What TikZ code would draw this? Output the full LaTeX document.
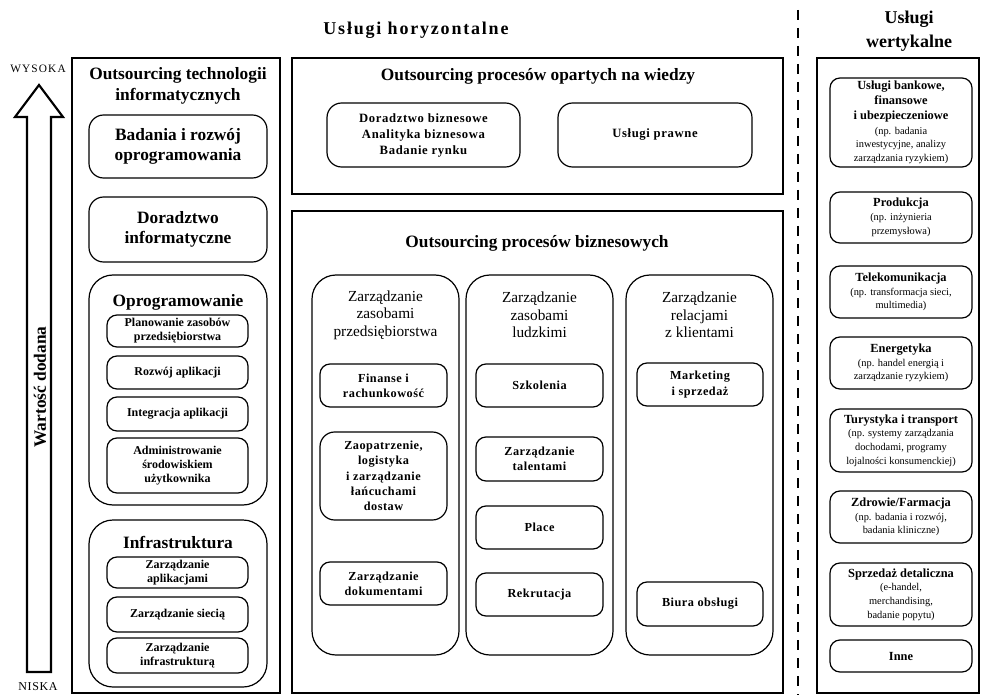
\documentclass[tikz,border=0pt]{standalone}
\usepackage{fontspec}
\setmainfont{Liberation Serif}
\newcommand\bx[7]{%
 \pgfmathsetmacro\bxcx{(#3+#5)/2}%
 \pgfmathsetmacro\bxcy{(#4+#6)/2}%
 \pgfmathsetmacro\bxw{(#5-#3)*0.75}%
 \pgfmathsetmacro\bxh{(#6-#4)*0.75}%
 \node[#1, minimum width=\bxw pt, minimum height=\bxh pt, inner sep=0pt] (#2) at (\bxcx,\bxcy) {#7};}
\newcommand\vb[1]{{\fontsize{9.3}{11}\selectfont\bfseries #1}}
\begin{document}
\begin{tikzpicture}[x=0.75pt,y=-0.75pt]
\tikzset{
 outer/.style={draw, line width=2pt, rectangle},
 rb/.style={draw, line width=0.9pt, rounded corners=7.5pt, align=center},
 rmid/.style={draw, line width=0.9pt, rounded corners=11pt, align=center},
 rbig/.style={draw, line width=0.9pt, rounded corners=18pt},
 ttl/.style={font=\bfseries\fontsize{13}{15.5}\selectfont, align=center, inner sep=0pt},
 sm/.style={font=\bfseries\fontsize{9}{10.5}\selectfont},
 smb/.style={font=\bfseries\fontsize{9.2}{11.5}\selectfont\addfontfeature{LetterSpace=4}},
 kn/.style={font=\bfseries\fontsize{9.5}{12}\selectfont\addfontfeature{LetterSpace=5}},
 coltl/.style={font=\fontsize{11.5}{13}\selectfont, align=center, inner sep=0pt},
 vert/.style={font=\fontsize{7.8}{10.3}\selectfont},
 dashline/.style={line width=2.2pt, dash pattern=on 7.5pt off 6pt},
}
\useasboundingbox (0,0) rectangle (981,695);

% headings
\node[ttl, font=\bfseries\fontsize{13.5}{16}\selectfont\addfontfeature{LetterSpace=10}] (hor) at (416,30) {Usługi horyzontalne};
\node[ttl, font=\bfseries\fontsize{13.5}{18}\selectfont] (wer) at (909,31) {Usługi\\wertykalne};

% dashed separator
\coordinate (dtop) at (798,10);
\coordinate (dbot) at (798,695);
\draw[dashline] (dtop) -- (dbot);

% value arrow
\draw[line width=1.6pt, line join=miter] (27,672) -- (51,672) -- (51,117) -- (63,117) -- (39,85) -- (15,117) -- (27,117) -- cycle;
\node[font=\fontsize{8.5}{10}\selectfont\addfontfeature{LetterSpace=10}, inner sep=0pt] (hi) at (38,69) {WYSOKA};
\node[font=\fontsize{9}{10}\selectfont\addfontfeature{LetterSpace=5}, inner sep=0pt] (lo) at (38,687) {NISKA};
\node[ttl, rotate=90] (wd) at (40,387) {Wartość dodana};

% IT outsourcing
\bx{outer}{it}{72}{58}{280}{693}{}
\node[ttl] (itt) at (178,86) {Outsourcing technologii\\informatycznych};
\bx{rmid,ttl}{bad}{89}{115}{267}{178}{Badania i rozwój\\oprogramowania}
\bx{rmid,ttl}{dor}{89}{197}{267}{262}{Doradztwo\\informatyczne}
\bx{rbig}{opr}{89}{275}{267}{505}{}
\node[ttl] (oprt) at (178,302) {Oprogramowanie};
\bx{rb,sm}{plan}{107}{315}{248}{347}{Planowanie zasobów\\przedsiębiorstwa}
\bx{rb,sm}{roz}{107}{356}{248}{389}{Rozwój aplikacji}
\bx{rb,sm}{int}{107}{397}{248}{431}{Integracja aplikacji}
\bx{rb,sm}{adm}{107}{438}{248}{493}{Administrowanie\\środowiskiem\\użytkownika}
\bx{rbig}{inf}{89}{520}{267}{687}{}
\node[ttl] (inft) at (178,543) {Infrastruktura};
\bx{rb,sm}{zapl}{107}{557}{248}{588}{Zarządzanie\\aplikacjami}
\bx{rb,sm}{zsie}{107}{597}{248}{632}{Zarządzanie siecią}
\bx{rb,sm}{zinf}{107}{638}{248}{673}{Zarządzanie\\infrastrukturą}

% KPO
\bx{outer}{kpo}{292}{58}{783}{194}{}
\node[ttl] (kpot) at (538,76) {Outsourcing procesów opartych na wiedzy};
\bx{rmid,kn}{dbiz}{327}{103}{520}{167}{Doradztwo biznesowe\\Analityka biznesowa\\Badanie rynku}
\bx{rmid,kn}{uprw}{558}{103}{752}{167}{Usługi prawne}

% BPO
\bx{outer}{bpo}{292}{211}{783}{693}{}
\node[ttl] (bpot) at (537,243) {Outsourcing procesów biznesowych};
\bx{rbig}{c1}{312}{275}{459}{655}{}
\node[coltl] (c1t) at (385.5,315) {Zarządzanie\\zasobami\\przedsiębiorstwa};
\bx{rb,smb}{fin}{320}{364}{447}{407}{Finanse i\\rachunkowość}
\bx{rmid,smb}{zao}{320}{432}{447}{520}{Zaopatrzenie,\\logistyka\\i zarządzanie\\łańcuchami\\dostaw}
\bx{rb,smb}{dok}{320}{562}{447}{605}{Zarządzanie\\dokumentami}
\bx{rbig}{c2}{466}{275}{613}{655}{}
\node[coltl] (c2t) at (539.5,315) {Zarządzanie\\zasobami\\ludzkimi};
\bx{rb,smb}{szk}{476}{364}{603}{407}{Szkolenia}
\bx{rb,smb}{tal}{476}{437}{603}{481}{Zarządzanie\\talentami}
\bx{rb,smb}{pla}{476}{506}{603}{549}{Place}
\bx{rb,smb}{rek}{476}{573}{603}{616}{Rekrutacja}
\bx{rbig}{c3}{626}{275}{773}{655}{}
\node[coltl] (c3t) at (699.5,315) {Zarządzanie\\relacjami\\z klientami};
\bx{rb,smb}{mar}{637}{363}{763}{406}{Marketing\\i sprzedaż}
\bx{rb,smb}{biu}{637}{582}{763}{626}{Biura obsługi}

% vertical services
\bx{outer}{ver}{817}{58}{979}{693}{}
\bx{rb,vert}{bank}{830}{78}{972}{167}{\vb{Usługi bankowe,}\\[1pt]\vb{finansowe}\\[1pt]\vb{i ubezpieczeniowe}\\[0.5pt](np. badania\\inwestycyjne, analizy\\zarządzania ryzykiem)}
\bx{rb,vert}{prod}{830}{192}{972}{243}{\vb{Produkcja}\\(np. inżynieria\\przemysłowa)}
\bx{rb,vert}{tele}{830}{266}{972}{318}{\vb{Telekomunikacja}\\(np. transformacja sieci,\\multimedia)}
\bx{rb,vert}{ener}{830}{337}{972}{389}{\vb{Energetyka}\\(np. handel energią i\\zarządzanie ryzykiem)}
\bx{rb,vert}{tur}{830}{409}{972}{472}{\vb{Turystyka i transport}\\(np. systemy zarządzania\\dochodami, programy\\lojalności konsumenckiej)}
\bx{rb,vert}{zdr}{830}{491}{972}{543}{\vb{Zdrowie/Farmacja}\\(np. badania i rozwój,\\badania kliniczne)}
\bx{rb,vert}{det}{830}{563}{972}{626}{\vb{Sprzedaż detaliczna}\\(e-handel,\\merchandising,\\badanie popytu)}
\bx{rb,vert}{inne}{830}{640}{972}{672}{\vb{Inne}}
\end{tikzpicture}
\end{document}
